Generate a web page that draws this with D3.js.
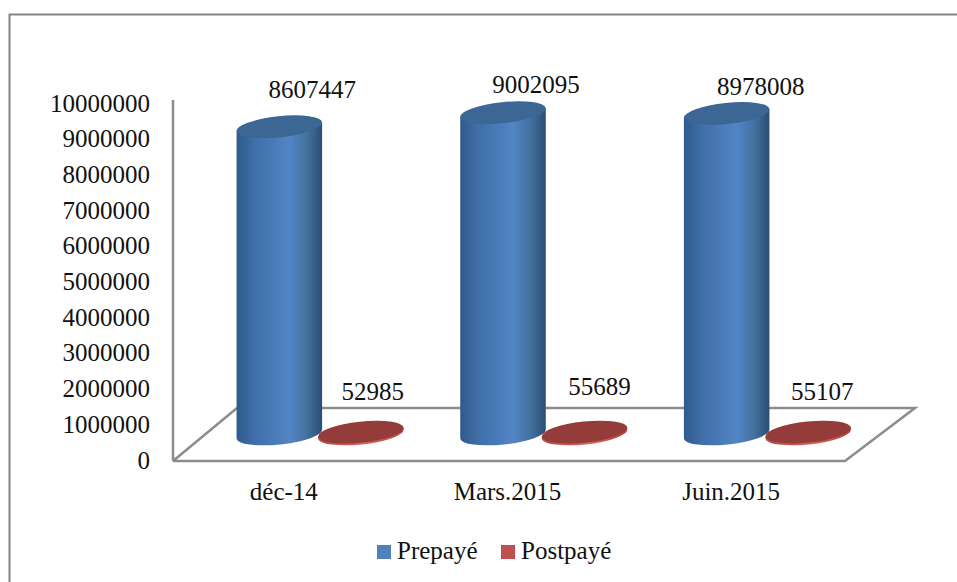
<!DOCTYPE html>
<html>
<head>
<meta charset="utf-8">
<style>
html, body { margin: 0; background: #fff; }
svg { display: block; }
text { font-family: "Liberation Serif", serif; font-size: 25px; fill: #111; }
</style>
<script src="https://cdn.jsdelivr.net/npm/d3@7"></script>
</head>
<body>
<div id="chart"></div>
<script>
var categories = ['déc-14', 'Mars.2015', 'Juin.2015'],
    seriesNames = ['Prepayé', 'Postpayé'],
    prepaye = [8607447, 9002095, 8978008],
    postpaye = [52985, 55689, 55107],
    tickValues = [0, 1000000, 2000000, 3000000, 4000000, 5000000, 6000000, 7000000, 8000000, 9000000, 10000000]

// hand placed labels in the original, so nudged one by one
var labelNudge = {
    'Prepayé': [[33, -34], [33, -25], [34, -24]],
    'Postpayé': [[12, -38], [15, -43], [14, -38]]
}

var width = 957,
    height = 582,
    gray = '#8c8c8c',
    depth = {x: 66, y: 53},
    floorOffset = 26,
    rx = 43,
    tilt = -6

var svg = d3.select('#chart').append('svg')
    .attr('width', width)
    .attr('height', height)

var y = d3.scaleLinear().domain([0, 10000000]).range([460, 103])
var x = d3.scaleBand().domain(categories).range([172, 843])
var xSeries = d3.scalePoint().domain(seriesNames).range([-4.5, 77])

var defs = svg.append('defs')

function addGradient(id, stops) {
    defs.append('linearGradient')
        .attr('id', id)
        .selectAll('stop')
        .data(stops)
        .join('stop')
        .attr('offset', function(d) { return d[0] })
        .attr('stop-color', function(d) { return d[1] })
}

addGradient('blueSide', [[0, '#2f5a8c'], [.2, '#3f6ea6'], [.62, '#5285c6'], [.82, '#44719f'], [1, '#2c4d73']])
addGradient('redSide', [[0, '#b54a47'], [.5, '#d0605c'], [1, '#b54a47']])

// outer frame, only top and left are in the picture
svg.append('path')
    .attr('d', 'M9.5,' + height + 'V14.5H' + width)
    .attr('fill', 'none')
    .attr('stroke', '#858585')
    .attr('stroke-width', 2)

// floor of the 3d box
var floorLeft = x.range()[0] + 1,
    floorRight = x.range()[1] + 2,
    floorY = y(0) + 1

svg.append('path')
    .attr('d', d3.line()([
        [floorLeft, floorY],
        [floorRight, floorY],
        [floorRight + depth.x + 4, floorY - depth.y],
        [floorLeft + depth.x - 2, floorY - depth.y],
        [floorLeft, floorY]
    ]) + 'M' + floorLeft + ',' + floorY + 'V' + (y(10000000) - 3))
    .attr('fill', 'none')
    .attr('stroke', gray)
    .attr('stroke-width', 2.5)

var yAxis = d3.axisLeft(y)
    .tickValues(tickValues)
    .tickSize(0)
    .tickPadding(0)
    .tickFormat(d3.format('d'))

var axisG = svg.append('g')
    .attr('transform', 'translate(150,0)')
    .call(yAxis)

axisG.select('.domain').remove()
axisG.selectAll('text')
    .style('font-family', '"Liberation Serif", serif')
    .style('font-size', '25px')
    .attr('fill', '#111')

// one cylinder per value
function cylinder(g, cx, value, sideFill, topFill, ry) {
    var base = y(0) - floorOffset,
        top = y(value) - floorOffset,
        rad = tilt * Math.PI / 180,
        dx = rx * Math.cos(rad),
        dy = rx * Math.sin(rad)

    g.append('path')
        .attr('d', 'M' + (cx - dx) + ',' + (top - dy) +
            'L' + (cx - dx) + ',' + (base - dy) +
            'A' + rx + ',' + ry + ' ' + tilt + ' 0 0 ' + (cx + dx) + ',' + (base + dy) +
            'L' + (cx + dx) + ',' + (top + dy) + 'Z')
        .attr('fill', sideFill)

    g.append('ellipse')
        .attr('rx', rx)
        .attr('ry', ry)
        .attr('transform', 'translate(' + cx + ',' + top + ') rotate(' + tilt + ')')
        .attr('fill', topFill)
}

var seriesValues = [prepaye, postpaye],
    sideFills = ['url(#blueSide)', 'url(#redSide)'],
    topFills = ['#3c6694', '#943c39'],
    radiiY = [10.5, 10.5]

seriesNames.forEach(function(name, s) {
    categories.forEach(function(c, i) {
        var cx = x(c) + x.bandwidth() / 2 + xSeries(name),
            value = seriesValues[s][i],
            g = svg.append('g').attr('class', 'bar')

        cylinder(g, cx, value, sideFills[s], topFills[s], radiiY[s])

        svg.append('text')
            .attr('x', cx + labelNudge[name][i][0])
            .attr('y', y(value) - floorOffset + labelNudge[name][i][1])
            .attr('text-anchor', 'middle')
            .attr('dominant-baseline', 'middle')
            .text(value)
    })
})

svg.selectAll('.cat')
    .data(categories)
    .join('text')
    .attr('class', 'cat')
    .attr('x', function(d) { return x(d) + x.bandwidth() / 2 })
    .attr('y', 500)
    .attr('text-anchor', 'middle')
    .text(function(d) { return d })

// legend
var legendColors = ['#4f81bd', '#c0504d'],
    legendX = d3.scalePoint().domain(seriesNames).range([377, 501])

var legend = svg.selectAll('.legend')
    .data(seriesNames)
    .join('g')
    .attr('class', 'legend')
    .attr('transform', function(d) { return 'translate(' + legendX(d) + ',545)' })

legend.append('rect')
    .attr('width', 14)
    .attr('height', 14)
    .attr('fill', function(d, i) { return legendColors[i] })

legend.append('text')
    .attr('x', 20)
    .attr('y', 14)
    .text(function(d) { return d })
</script>
</body>
</html>
